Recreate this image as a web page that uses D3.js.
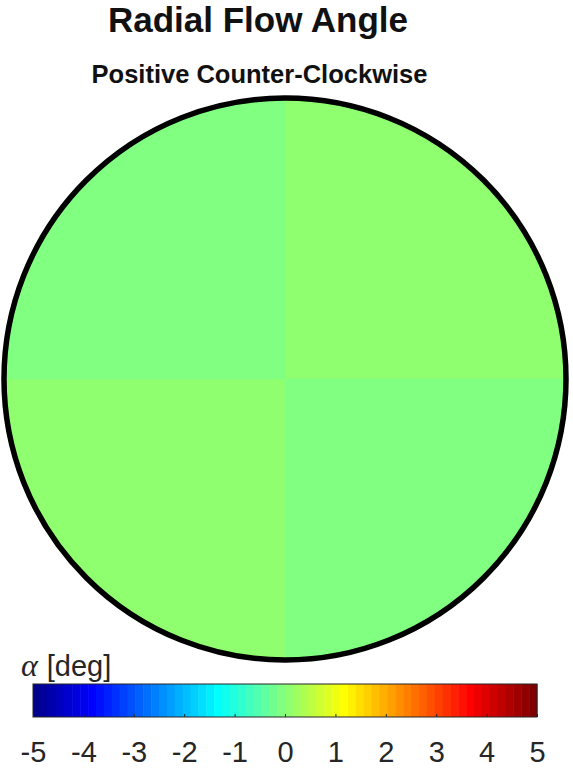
<!DOCTYPE html>
<html>
<head>
<meta charset="utf-8">
<script src="https://cdn.jsdelivr.net/npm/d3@7"></script>
<style>
  html, body { margin: 0; padding: 0; background: #fff; }
  svg { display: block; }
  text { font-family: "Liberation Sans", Arial, Helvetica, sans-serif; }
</style>
</head>
<body>
<svg id="chart" width="573" height="769"></svg>
<script>
// ---- data ----
const title = "Radial Flow Angle";
const subtitle = "Positive Counter-Clockwise";
const quadrants = ["upper right", "lower right", "lower left", "upper left"];
const quadrantStart = [0, 90, 180, 270];          // degrees, clockwise from top
const alphaValues = [0.05, -0.05, 0.05, -0.05];   // radial flow angle [deg]
const colorDomain = [-5, 5];
const colorTicks = [-5, -4, -3, -2, -1, 0, 1, 2, 3, 4, 5];
const colorLabel = "[deg]";

// ---- MATLAB jet(64) ----
function jet(m) {
  const n = Math.ceil(m / 4);
  const u = [];
  for (let i = 1; i <= n; i++) u.push(i / n);
  for (let i = 1; i < n; i++) u.push(1);
  for (let i = n; i >= 1; i--) u.push(i / n);
  const off = Math.ceil(n / 2) - (m % 4 === 1 ? 1 : 0);
  const cmap = [];
  for (let k = 1; k <= m; k++) {
    const gi = k - off, ri = k - off - n, bi = k - off + n;
    const get = i => (i >= 1 && i <= u.length) ? u[i - 1] : 0;
    cmap.push(d3.rgb(Math.round(get(ri) * 255), Math.round(get(gi) * 255), Math.round(get(bi) * 255)).formatHex());
  }
  return cmap;
}
const cmap = jet(64);
const colorIndex = d3.scaleQuantize().domain(colorDomain).range(d3.range(64));
const color = v => cmap[colorIndex(v)];

const svg = d3.select("#chart");

// ---- titles ----
svg.append("text").attr("x", 258).attr("y", 32).attr("text-anchor", "middle")
  .attr("font-size", 35).attr("font-weight", "bold").attr("fill", "#111").text(title);
svg.append("text").attr("x", 259.5).attr("y", 83).attr("text-anchor", "middle")
  .attr("font-size", 25.5).attr("font-weight", "bold").attr("fill", "#111").text(subtitle);

// ---- disk ----
const cx = 285, cy = 379, R = 281;
const rScale = d3.scaleLinear().domain([0, 1]).range([0, R]);
const g = svg.append("g").attr("transform", `translate(${cx},${cy})`);
const arc = d3.arc().innerRadius(0).outerRadius(rScale(1));
g.selectAll("path.q").data(quadrants.map((q, i) => ({
    name: q, value: alphaValues[i],
    startAngle: quadrantStart[i] * Math.PI / 180,
    endAngle: (quadrantStart[i] + 90) * Math.PI / 180
  })))
  .join("path").attr("class", "q")
  .attr("d", arc)
  .attr("fill", d => color(d.value))
  .attr("stroke", d => color(d.value)).attr("stroke-width", 0.5);
g.append("circle").attr("r", rScale(1)).attr("fill", "none")
  .attr("stroke", "#000").attr("stroke-width", 5.5);

// ---- colorbar ----
const cbX0 = 33, cbX1 = 537, cbY = 684, cbH = 33;
const xc = d3.scaleLinear().domain(colorDomain).range([cbX0, cbX1]);
const step = (colorDomain[1] - colorDomain[0]) / 64;
const cb = svg.append("g");
cb.selectAll("rect.c").data(cmap).join("rect").attr("class", "c")
  .attr("x", (d, i) => xc(colorDomain[0] + i * step))
  .attr("width", (d, i) => xc(colorDomain[0] + (i + 1) * step) - xc(colorDomain[0] + i * step) + 0.5)
  .attr("y", cbY).attr("height", cbH).attr("fill", d => d);
cb.append("rect").attr("x", cbX0).attr("y", cbY).attr("width", cbX1 - cbX0).attr("height", cbH)
  .attr("fill", "none").attr("stroke", "#262626").attr("stroke-width", 1);

const axis = d3.axisBottom(xc).tickValues(colorTicks).tickSizeInner(-3).tickSizeOuter(0)
  .tickPadding(30).tickFormat(d3.format("d"));
const ax = svg.append("g").attr("transform", `translate(0,${cbY + cbH})`).call(axis);
ax.select(".domain").remove();
ax.selectAll(".tick line").attr("stroke", "#262626");
ax.selectAll(".tick text").attr("font-size", 29).attr("fill", "#262626")
  .attr("font-family", "'Liberation Sans', Arial, sans-serif").attr("dy", 0).attr("y", 45)
  .text(d => d < 0 ? "-" + Math.abs(d) : String(d));

// ---- colorbar label ----
const lbl = svg.append("text").attr("x", 21).attr("y", 676).attr("font-size", 29).attr("fill", "#262626");
lbl.append("tspan").attr("font-family", "'Liberation Serif', 'Times New Roman', serif")
  .attr("font-style", "italic").attr("font-size", 32).text("α");
lbl.append("tspan").attr("dx", 9).text(colorLabel);
</script>
</body>
</html>
